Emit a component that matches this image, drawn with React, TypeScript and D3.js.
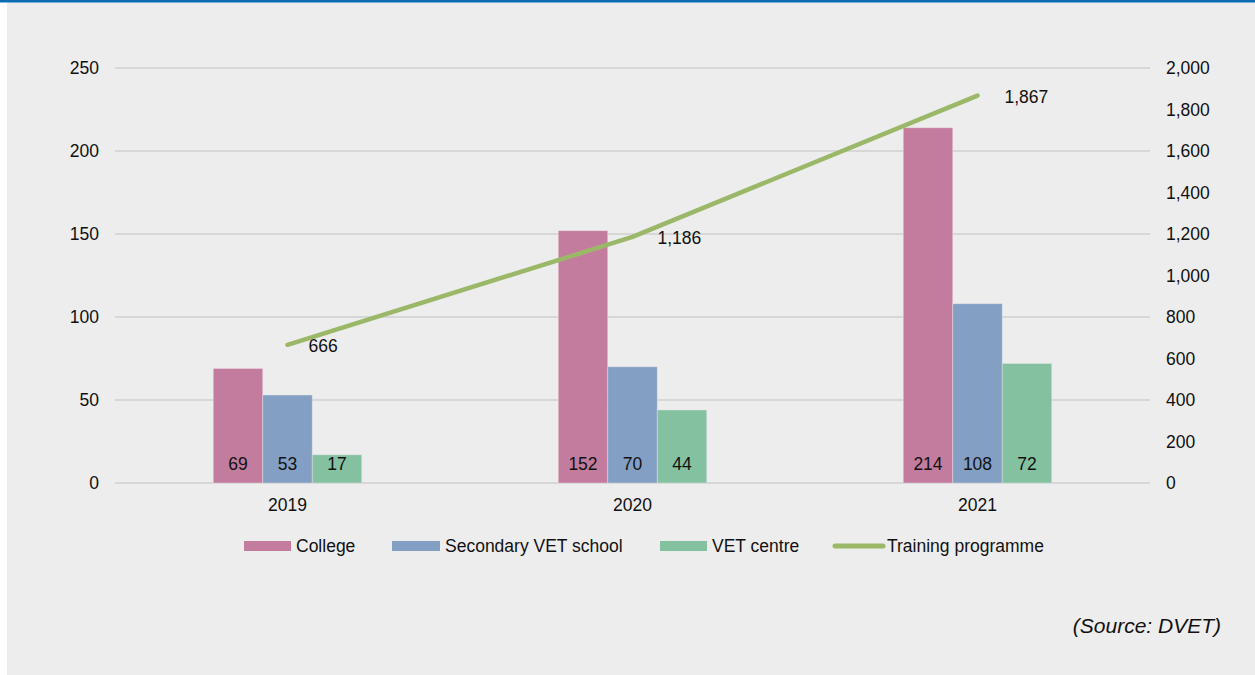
import React from "react";
import * as d3 from "d3";

const years = ["2019", "2020", "2021"];
const college = [69, 152, 214];
const secondaryVet = [53, 70, 108];
const vetCentre = [17, 44, 72];
const training = [666, 1186, 1867];
const leftTicks = [0, 50, 100, 150, 200, 250];
const rightTicks = [0, 200, 400, 600, 800, 1000, 1200, 1400, 1600, 1800, 2000];
const seriesNames = ["College", "Secondary VET school", "VET centre"];
const lineName = "Training programme";
const colors = ["#C47C9E", "#849FC4", "#84C1A1"];
const lineColor = "#9BB868";

const W = 1255, H = 675;
const left = 115, right = 1150, top = 68, bottom = 483;
const FONT = "'Liberation Sans', Arial, sans-serif";
const FS = 17.5;

export default function App() {
  const x = d3.scaleBand().domain(years).range([left, right]).padding(0);
  const yL = d3.scaleLinear().domain([0, 250]).range([bottom, top]);
  const yR = d3.scaleLinear().domain([0, 2000]).range([bottom, top]);
  const barW = 49.5;
  const series = [college, secondaryVet, vetCentre];
  const fmt = d3.format(",");
  const line = d3.line<number>()
    .x((_, i) => (x(years[i]) as number) + x.bandwidth() / 2)
    .y((d) => yR(d));
  const labelOffsets = [[21, 1], [25, 1], [27, 1]];

  const legendItems = [
    { x: 244, w: 47, label: seriesNames[0], color: colors[0], type: "rect" },
    { x: 392, w: 48, label: seriesNames[1], color: colors[1], type: "rect" },
    { x: 660, w: 47, label: seriesNames[2], color: colors[2], type: "rect" },
    { x: 833, w: 50, label: lineName, color: lineColor, type: "line" },
  ];

  return (
    <svg width={W} height={H} style={{ position: "absolute", left: 0, top: 0 }} fontFamily={FONT}>
      <rect x={7} y={0} width={W - 7} height={H} fill="#EDEDED" />
      <rect x={0} y={0} width={W} height={2.5} fill="#0A6AB4" />
      {leftTicks.map((t) => (
        <g key={t}>
          <line x1={left} x2={right} y1={yL(t)} y2={yL(t)} stroke="#CFCFCF" strokeWidth={1.5} />
          <text x={99} y={yL(t)} dy="0.35em" textAnchor="end" fontSize={FS} fill="#111">{t}</text>
        </g>
      ))}
      {rightTicks.map((t) => (
        <text key={t} x={1166} y={yR(t)} dy="0.35em" textAnchor="start" fontSize={FS} fill="#111">{fmt(t)}</text>
      ))}
      {years.map((yr, i) => {
        const cx = (x(yr) as number) + x.bandwidth() / 2;
        return (
          <g key={yr}>
            {series.map((s, j) => {
              const bx = cx - 1.5 * barW + j * barW;
              return (
                <g key={j}>
                  <rect x={bx} y={yL(s[i])} width={barW} height={bottom - yL(s[i])} fill={colors[j]} stroke="#F2E9EE" strokeOpacity={0.5} strokeWidth={0.8} />
                  <text x={bx + barW / 2} y={464} dy="0.35em" textAnchor="middle" fontSize={FS} fill="#111">{s[i]}</text>
                </g>
              );
            })}
            <text x={cx} y={505} dy="0.35em" textAnchor="middle" fontSize={FS} fill="#111">{yr}</text>
          </g>
        );
      })}
      <path d={line(training) || ""} fill="none" stroke={lineColor} strokeWidth={4.5} strokeLinecap="round" strokeLinejoin="round" />
      {training.map((v, i) => {
        const cx = (x(years[i]) as number) + x.bandwidth() / 2;
        return (
          <text key={i} x={cx + labelOffsets[i][0]} y={yR(v) + labelOffsets[i][1]} dy="0.35em" textAnchor="start" fontSize={FS} fill="#111">
            {fmt(v)}
          </text>
        );
      })}
      {legendItems.map((it) => (
        <g key={it.label}>
          {it.type === "rect" ? (
            <rect x={it.x} y={541} width={it.w} height={10} fill={it.color} />
          ) : (
            <line x1={it.x + 2} x2={it.x + it.w} y1={546} y2={546} stroke={it.color} strokeWidth={5} strokeLinecap="round" />
          )}
          <text x={it.x + it.w + (it.type === "rect" ? 5 : 4)} y={546} dy="0.35em" fontSize={FS} fill="#111">{it.label}</text>
        </g>
      ))}
      <text x={1221} y={626} dy="0.35em" textAnchor="end" fontSize={21} fontStyle="italic" fill="#111">(Source: DVET)</text>
    </svg>
  );
}
